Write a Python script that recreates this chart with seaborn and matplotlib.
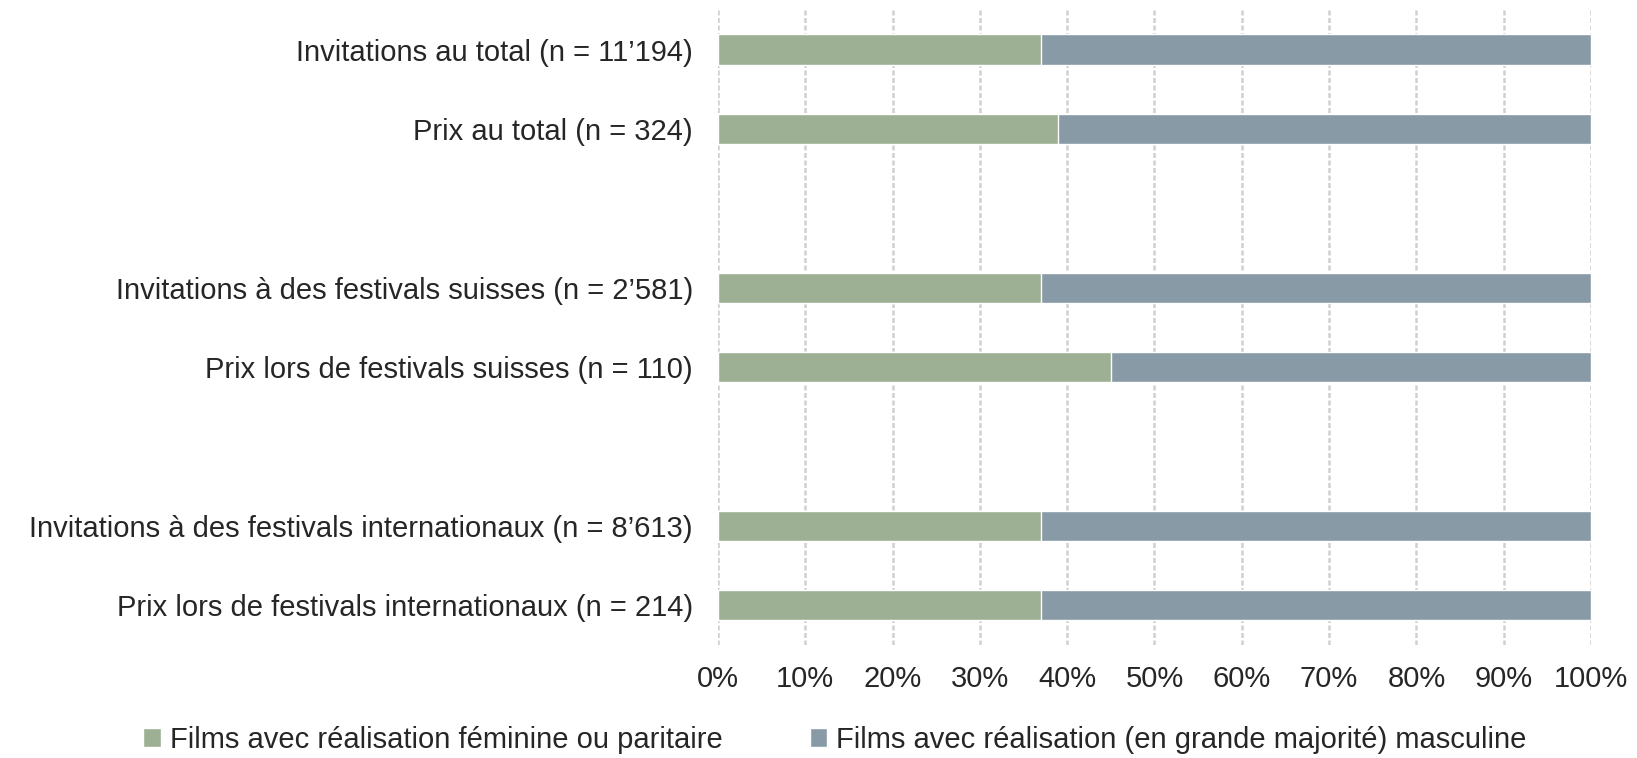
import pandas as pd
import seaborn as sns
import matplotlib.pyplot as plt
from matplotlib.patches import Patch
from matplotlib.ticker import PercentFormatter

categories = [
    'Invitations au total (n = 11’194)',
    'Prix au total (n = 324)',
    ' ',
    'Invitations à des festivals suisses (n = 2’581)',
    'Prix lors de festivals suisses (n = 110)',
    '  ',
    'Invitations à des festivals internationaux (n = 8’613)',
    'Prix lors de festivals internationaux (n = 214)',
]
real_rows = [0, 1, 3, 4, 6, 7]
female_share = [37, 39, 37, 45, 37, 37]
male_share = [63, 61, 63, 55, 63, 63]
series_names = ['Films avec réalisation féminine ou paritaire',
                'Films avec réalisation (en grande majorité) masculine']
green = '#9DB094'
blue = '#879AA6'

df = pd.DataFrame({
    'label': [categories[i] for i in real_rows],
    'female': female_share,
    'male': male_share,
})
df['total'] = df['female'] + df['male']

sns.set_style('white')
plt.rcParams['font.family'] = ['Liberation Sans', 'DejaVu Sans']

fig = plt.figure(figsize=(16.37, 7.58), dpi=100)
ax = fig.add_axes([0.4386, 0.149, 0.5333, 0.838])

# blue bar runs the full 100 %, green share drawn over it
sns.barplot(data=df, y='label', x='total', order=categories, orient='h',
            color=blue, width=0.38, saturation=1, ax=ax, zorder=3)
sns.barplot(data=df, y='label', x='female', order=categories, orient='h',
            color=green, width=0.38, saturation=1, ax=ax, zorder=4)

ax.set_xlim(0, 100)
ax.set_ylim(7.5, -0.5)
ax.set_xticks(range(0, 101, 10))
ax.xaxis.set_major_formatter(PercentFormatter(decimals=0))
ax.grid(axis='x', color='#D0D0D0', linestyle=(0, (2, 1)), linewidth=1.8, zorder=0)
ax.set_axisbelow(True)
for s in ax.spines.values():
    s.set_visible(False)
ax.set_xlabel('')
ax.set_ylabel('')
ax.tick_params(axis='y', length=0, pad=18, labelsize=21, labelcolor='#262626')
ax.tick_params(axis='x', length=0, pad=14, labelsize=21, labelcolor='#262626')

handles = [Patch(facecolor=green), Patch(facecolor=blue)]
fig.legend(handles, series_names, loc='center', bbox_to_anchor=(0.51, 0.024),
           ncol=2, frameon=False, fontsize=21, handlelength=0.6, handleheight=0.6,
           handletextpad=0.3, columnspacing=3.0, labelcolor='#262626')

fig.savefig('out.png', dpi=100)
